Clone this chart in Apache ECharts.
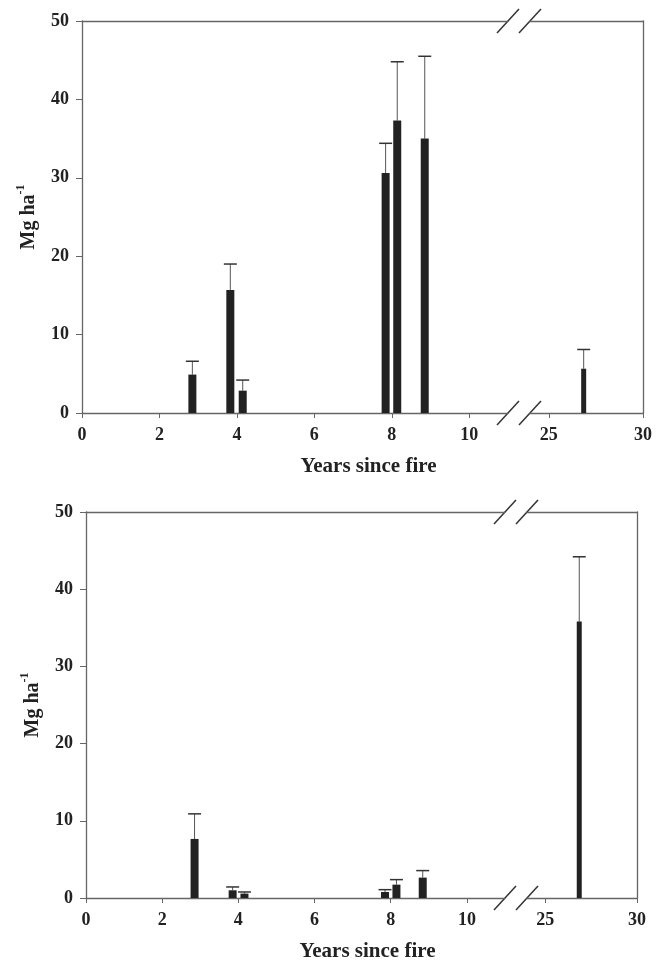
<!DOCTYPE html>
<html>
<head>
<meta charset="utf-8">
<script src="https://cdn.jsdelivr.net/npm/echarts@6/dist/echarts.min.js"></script>
<style>
html,body{margin:0;padding:0;background:#fff;}
#chartmain{width:665px;height:960px;}
</style>
</head>
<body>
<div id="chartmain"></div>
<script>
// upper panel: years since fire / mean Mg ha-1 / upper error
var topYears = [2.85, 3.83, 4.15, 7.84, 8.14, 8.85];
var topMean = [4.9, 15.7, 2.85, 30.6, 37.3, 35.0];
var topErr = [1.7, 3.3, 1.35, 3.8, 7.5, 10.5];
var topOldYears = [26.85];
var topOldMean = [5.65];
var topOldErr = [2.45];

// lower panel
var botYears = [2.85, 3.85, 4.16, 7.85, 8.15, 8.84];
var botMean = [7.65, 1.0, 0.57, 0.78, 1.73, 2.64];
var botErr = [3.25, 0.43, 0.21, 0.3, 0.65, 0.91];
var botOldYears = [26.85];
var botOldMean = [35.8];
var botOldErr = [8.4];

var xTicksNear = [0, 2, 4, 6, 8, 10];
var xTicksFar = [25, 30];

var serif = '"Liberation Serif", "Times New Roman", serif';
var axisColor = '#666';
var inkColor = '#222';

// box geometry of each panel (cut1/cut2 = ends of the broken axis)
var panels = [
    {left: 82, right: 643, top: 21, bottom: 413, cut1: 508, cut2: 530,
        near: [topYears, topMean, topErr], far: [topOldYears, topOldMean, topOldErr]},
    {left: 86, right: 637, top: 512, bottom: 898, cut1: 505, cut2: 527,
        near: [botYears, botMean, botErr], far: [botOldYears, botOldMean, botOldErr]}
];

function pairs(xs, ys) {
    return xs.map(function(x, i) { return [x, ys[i]]; });
}
function errRows(xs, ys, es) {
    return xs.map(function(x, i) { return [x, ys[i], ys[i] + es[i]]; });
}

function renderErr(params, api) {
    var p0 = api.coord([api.value(0), api.value(1)]);
    var p1 = api.coord([api.value(0), api.value(2)]);
    var w = 6.5;
    return {
        type: 'group',
        children: [
            {type: 'line', shape: {x1: p0[0], y1: p0[1], x2: p1[0], y2: p1[1]},
                style: {stroke: '#555', lineWidth: 1}},
            {type: 'line', shape: {x1: p1[0] - w, y1: p1[1], x2: p1[0] + w, y2: p1[1]},
                style: {stroke: '#333', lineWidth: 1.5}}
        ]
    };
}

var lineOnly = {
    axisLine: {show: true, onZero: false, lineStyle: {color: axisColor, width: 1.3}},
    axisTick: {show: false},
    axisLabel: {show: false},
    splitLine: {show: false}
};
var labelStyle = {fontFamily: serif, fontWeight: 'bold', fontSize: 18, color: inkColor};

var grids = [], xAxes = [], yAxes = [], series = [], graphics = [];

panels.forEach(function(p) {
    var h = p.bottom - p.top;
    var gNear = grids.length;
    grids.push({left: p.left, top: p.top, width: p.cut1 - p.left, height: h});
    grids.push({left: p.cut2, top: p.top, width: p.right - p.cut2, height: h});
    var gFar = gNear + 1;

    // near segment 0..11
    var xNear = xAxes.length;
    xAxes.push({
        type: 'value', gridIndex: gNear, position: 'bottom', min: 0, max: 11,
        axisLine: {onZero: false, lineStyle: {color: axisColor, width: 1.3}},
        axisTick: {show: true, length: 5, customValues: xTicksNear, lineStyle: {color: axisColor}},
        axisLabel: Object.assign({margin: 13, customValues: xTicksNear}, labelStyle),
        splitLine: {show: false}
    });
    xAxes.push(Object.assign({type: 'value', gridIndex: gNear, position: 'top', min: 0, max: 11}, lineOnly));
    // far segment 24..30
    var xFar = xAxes.length;
    xAxes.push({
        type: 'value', gridIndex: gFar, position: 'bottom', min: 24, max: 30,
        axisLine: {onZero: false, lineStyle: {color: axisColor, width: 1.3}},
        axisTick: {show: true, length: 5, customValues: xTicksFar, lineStyle: {color: axisColor}},
        axisLabel: Object.assign({margin: 13, customValues: xTicksFar}, labelStyle),
        splitLine: {show: false}
    });
    xAxes.push(Object.assign({type: 'value', gridIndex: gFar, position: 'top', min: 24, max: 30}, lineOnly));

    var yNear = yAxes.length;
    yAxes.push({
        type: 'value', gridIndex: gNear, position: 'left', min: 0, max: 50, interval: 10,
        axisLine: {show: true, onZero: false, lineStyle: {color: axisColor, width: 1.3}},
        axisTick: {show: true, length: 6, lineStyle: {color: axisColor}},
        axisLabel: Object.assign({margin: 13}, labelStyle),
        splitLine: {show: false},
        name: '{m|Mg ha}{s|-1}',
        nameLocation: 'middle',
        nameGap: 43,
        nameTextStyle: {
            rich: {
                m: {fontFamily: serif, fontWeight: 'bold', fontSize: 20, color: inkColor, lineHeight: 24, verticalAlign: 'bottom'},
                s: {fontFamily: serif, fontWeight: 'bold', fontSize: 12, color: inkColor, verticalAlign: 'top'}
            }
        }
    });
    var yFar = yAxes.length;
    yAxes.push(Object.assign({type: 'value', gridIndex: gFar, position: 'right', min: 0, max: 50}, lineOnly));

    var near = p.near, far = p.far;
    series.push({type: 'bar', xAxisIndex: xNear, yAxisIndex: yNear, barWidth: 8,
        itemStyle: {color: inkColor}, data: pairs(near[0], near[1]), silent: true});
    series.push({type: 'custom', xAxisIndex: xNear, yAxisIndex: yNear, renderItem: renderErr,
        encode: {x: 0, y: [1, 2]}, data: errRows(near[0], near[1], near[2]), silent: true});
    series.push({type: 'bar', xAxisIndex: xFar, yAxisIndex: yFar, barWidth: 5,
        itemStyle: {color: inkColor}, data: pairs(far[0], far[1]), silent: true});
    series.push({type: 'custom', xAxisIndex: xFar, yAxisIndex: yFar, renderItem: renderErr,
        encode: {x: 0, y: [1, 2]}, data: errRows(far[0], far[1], far[2]), silent: true});

    // break marks "//" on top and bottom lines
    [p.cut1, p.cut2].forEach(function(cx) {
        [p.top, p.bottom].forEach(function(cy) {
            graphics.push({type: 'line', silent: true,
                shape: {x1: cx - 11, y1: cy + 12, x2: cx + 11, y2: cy - 12},
                style: {stroke: '#333', lineWidth: 1.5}});
        });
    });

    graphics.push({type: 'text', silent: true, x: (p.left + p.right) / 2 + 6, y: p.bottom + 54,
        style: {text: 'Years since fire', fontFamily: serif, fontWeight: 'bold', fontSize: 21,
            fill: inkColor, textAlign: 'center', textVerticalAlign: 'middle',
            align: 'center', verticalAlign: 'middle'}});
});

var myChart = echarts.init(document.getElementById('chartmain'));
var options = {
    backgroundColor: '#fff',
    animation: false,
    grid: grids,
    xAxis: xAxes,
    yAxis: yAxes,
    series: series,
    graphic: graphics
};
myChart.setOption(options);
</script>
</body>
</html>
